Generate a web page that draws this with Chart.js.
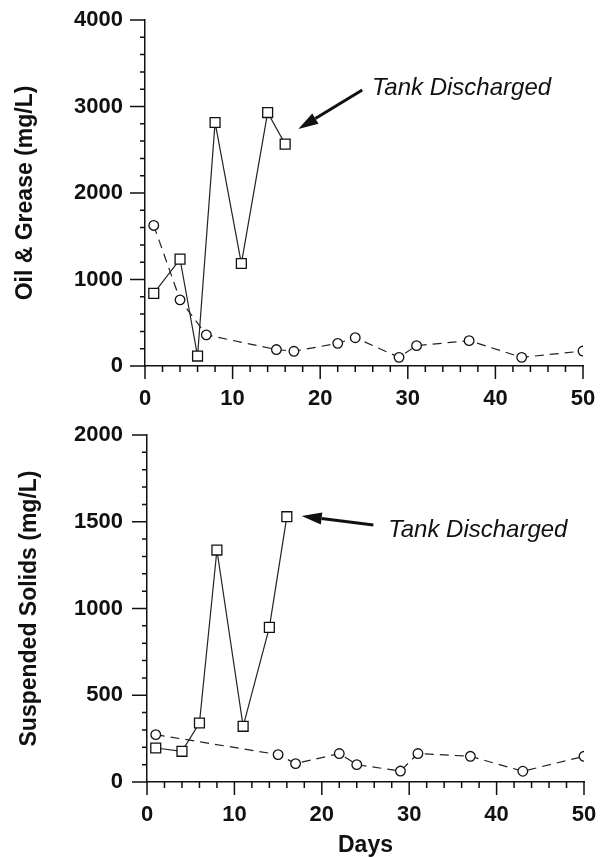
<!DOCTYPE html>
<html>
<head>
<meta charset="utf-8">
<script src="https://cdn.jsdelivr.net/npm/chart.js@4.4.1/dist/chart.umd.min.js"></script>
<style>
  html, body { margin: 0; padding: 0; background: #fff; }
  body { width: 603px; height: 857px; position: relative; overflow: hidden; }
  .wrap { position: absolute; left: 0; width: 603px; }
  #w1 { top: 0; height: 420px; }
  #w2 { top: 420px; height: 437px; }
</style>
</head>
<body>
<div class="wrap" id="w1"><canvas id="c1"></canvas></div>
<div class="wrap" id="w2"><canvas id="c2"></canvas></div>
<script>
// ---------- DATA ----------
const xTickLabels = [0, 10, 20, 30, 40, 50];

// Oil & Grease (mg/L)
const ogSquareDays   = [1, 4, 6, 8, 11, 14, 16];
const ogSquareValues = [840, 1235, 115, 2815, 1185, 2930, 2565];
const ogCircleDays   = [1, 4, 7, 15, 17, 22, 24, 29, 31, 37, 43, 50];
const ogCircleValues = [1625, 765, 360, 190, 170, 262, 327, 100, 235, 293, 100, 173];
const ogYTicks = [0, 1000, 2000, 3000, 4000];

// Suspended Solids (mg/L)
const ssSquareDays   = [1, 4, 6, 8, 11, 14, 16];
const ssSquareValues = [196, 177, 340, 1337, 321, 891, 1529];
const ssCircleDays   = [1, 15, 17, 22, 24, 29, 31, 37, 43, 50];
const ssCircleValues = [273, 158, 106, 164, 100, 63, 164, 148, 62, 148];
const ssYTicks = [0, 500, 1000, 1500, 2000];

// Annotations (data coordinates)
const ogNote = { text: 'Tank Discharged', at: [25.9, 3133], from: [24.8, 3191], to: [17.5, 2740] };
const ssNote = { text: 'Tank Discharged', at: [27.6, 1414], from: [25.9, 1481], to: [17.7, 1533] };

// ---------- HELPERS ----------
const FONT = "'Liberation Sans', Arial, Helvetica, sans-serif";
const pts = (xs, ys) => xs.map((x, i) => ({ x, y: ys[i] }));

function tickPlugin(cfg) {
  return {
    id: 'customTicks',
    afterDraw(chart) {
      const ctx = chart.ctx, xs = chart.scales.x, ys = chart.scales.y;
      const xAxisY = ys.getPixelForValue(0);
      const yAxisX = xs.getPixelForValue(0);
      ctx.save();
      ctx.strokeStyle = '#111';
      ctx.lineWidth = 1.5;
      ctx.beginPath();
      for (let v = 0; v <= 50; v += 2) {
        const px = xs.getPixelForValue(v);
        const len = (v % 10 === 0) ? 13 : 6;
        ctx.moveTo(px, xAxisY);
        ctx.lineTo(px, xAxisY + len);
      }
      for (let v = 0; v <= cfg.yMax; v += cfg.yMinor) {
        const py = ys.getPixelForValue(v);
        const len = (v % cfg.yMajor === 0) ? 15 : 5;
        ctx.moveTo(yAxisX, py);
        ctx.lineTo(yAxisX - len, py);
      }
      ctx.stroke();

      // annotation
      const n = cfg.note;
      const tx = xs.getPixelForValue(n.at[0]), ty = ys.getPixelForValue(n.at[1]);
      ctx.fillStyle = '#111';
      ctx.font = "italic 24px " + FONT;
      ctx.textBaseline = 'alphabetic';
      ctx.textAlign = 'left';
      ctx.fillText(n.text, tx, ty);
      const fx = xs.getPixelForValue(n.from[0]), fy = ys.getPixelForValue(n.from[1]);
      const ex = xs.getPixelForValue(n.to[0]), ey = ys.getPixelForValue(n.to[1]);
      const ang = Math.atan2(ey - fy, ex - fx);
      const hl = 20, hw = 6;
      const bx = ex - hl * Math.cos(ang), by = ey - hl * Math.sin(ang);
      ctx.lineWidth = 3;
      ctx.beginPath();
      ctx.moveTo(fx, fy);
      ctx.lineTo(bx, by);
      ctx.stroke();
      ctx.beginPath();
      ctx.moveTo(ex, ey);
      ctx.lineTo(bx + hw * Math.sin(ang), by - hw * Math.cos(ang));
      ctx.lineTo(bx - hw * Math.sin(ang), by + hw * Math.cos(ang));
      ctx.closePath();
      ctx.fill();
      ctx.restore();
    }
  };
}

function makeChart(id, o) {
  return new Chart(document.getElementById(id), {
    type: 'scatter',
    data: {
      datasets: [
        {
          data: pts(o.sqDays, o.sqVals),
          showLine: true,
          borderColor: '#222',
          borderWidth: 1.2,
          pointStyle: 'rect',
          pointRadius: 7,
          pointBorderWidth: 1.3,
          pointBorderColor: '#111',
          pointBackgroundColor: '#fff',
          order: 1
        },
        {
          data: pts(o.ciDays, o.ciVals),
          showLine: true,
          borderColor: '#222',
          borderWidth: 1.2,
          borderDash: [9, 6],
          pointStyle: 'circle',
          pointRadius: 4.8,
          pointBorderWidth: 1.3,
          pointBorderColor: '#111',
          pointBackgroundColor: '#fff',
          order: 2
        }
      ]
    },
    options: {
      responsive: true,
      maintainAspectRatio: false,
      animation: false,
      events: [],
      layout: { padding: o.padding },
      plugins: { legend: { display: false }, tooltip: { enabled: false } },
      scales: {
        x: {
          type: 'linear', min: 0, max: 50,
          afterFit: s => { s.height = o.xHeight; },
          afterBuildTicks: s => { s.ticks = xTickLabels.map(v => ({ value: v })); },
          grid: { display: true, drawOnChartArea: false, drawTicks: true,
                  tickLength: o.xGap, tickColor: 'rgba(0,0,0,0)' },
          border: { display: true, color: '#111', width: 1.5 },
          ticks: { color: '#111', padding: 0, maxRotation: 0, autoSkip: false,
                   callback: v => String(v),
                   font: { family: FONT, size: 22, weight: 'bold' } },
          title: o.xTitle
        },
        y: {
          type: 'linear', min: 0, max: o.yMax,
          afterFit: s => { s.width = o.yWidth; },
          afterBuildTicks: s => { s.ticks = o.yTicks.map(v => ({ value: v })); },
          grid: { display: true, drawOnChartArea: false, drawTicks: true,
                  tickLength: o.yGap, tickColor: 'rgba(0,0,0,0)' },
          border: { display: true, color: '#111', width: 1.5 },
          ticks: { color: '#111', padding: 0,
                   callback: v => String(v),
                   font: { family: FONT, size: 22, weight: 'bold' } },
          title: { display: true, text: o.yTitle, color: '#111',
                   font: { family: FONT, size: 23, weight: 'bold', lineHeight: 1.2 },
                   padding: { top: o.yTitlePad, bottom: 0 } }
        }
      }
    },
    plugins: [tickPlugin({ yMax: o.yMax, yMajor: o.yMajor, yMinor: o.yMinor, note: o.note })]
  });
}

makeChart('c1', {
  sqDays: ogSquareDays, sqVals: ogSquareValues,
  ciDays: ogCircleDays, ciVals: ogCircleValues,
  yTicks: ogYTicks, yMax: 4000, yMajor: 1000, yMinor: 200,
  yTitle: 'Oil & Grease (mg/L)', yTitlePad: 12,
  padding: { top: 20, right: 20, left: 0, bottom: 0 },
  yWidth: 145, xHeight: 54, xGap: 20, yGap: 22,
  xTitle: { display: false },
  note: ogNote
});

makeChart('c2', {
  sqDays: ssSquareDays, sqVals: ssSquareValues,
  ciDays: ssCircleDays, ciVals: ssCircleValues,
  yTicks: ssYTicks, yMax: 2000, yMajor: 500, yMinor: 100,
  yTitle: 'Suspended Solids (mg/L)', yTitlePad: 16,
  padding: { top: 15, right: 19, left: 0, bottom: 0 },
  yWidth: 147, xHeight: 75, xGap: 20, yGap: 24,
  xTitle: { display: true, text: 'Days', color: '#111',
            font: { family: FONT, size: 23, weight: 'bold', lineHeight: 1.0 },
            padding: { top: 0, bottom: 0 } },
  note: ssNote
});
</script>
</body>
</html>
